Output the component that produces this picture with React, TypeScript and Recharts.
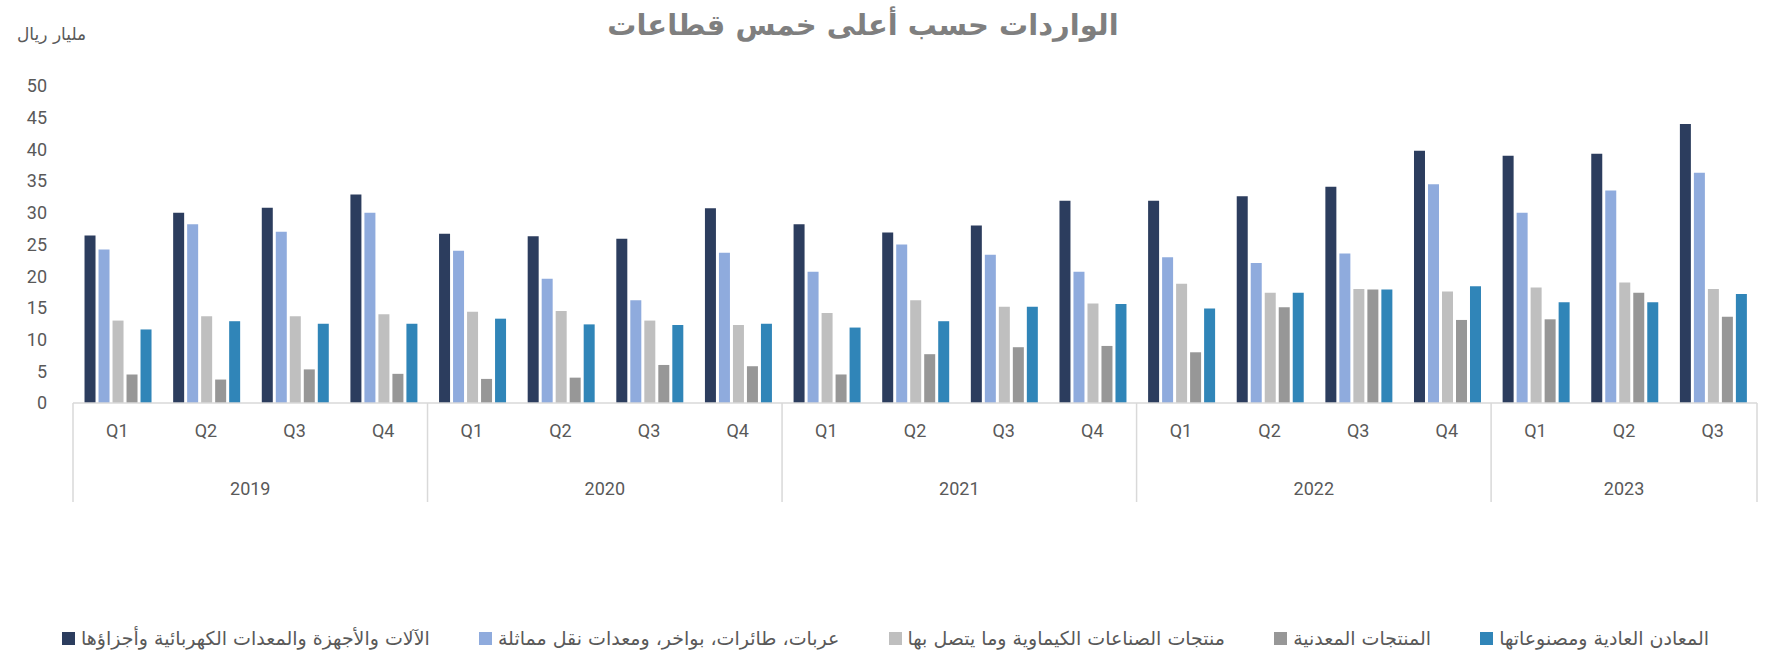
import React from 'react';
import { BarChart, Bar, XAxis, YAxis, Legend } from 'recharts';

const quarters = ['Q1', 'Q2', 'Q3', 'Q4', 'Q1', 'Q2', 'Q3', 'Q4', 'Q1', 'Q2', 'Q3', 'Q4', 'Q1', 'Q2', 'Q3', 'Q4', 'Q1', 'Q2', 'Q3'];
const years = ['2019', '2019', '2019', '2019', '2020', '2020', '2020', '2020', '2021', '2021', '2021', '2021', '2022', '2022', '2022', '2022', '2023', '2023', '2023'];

const machinery = [26.4, 30.0, 30.8, 32.9, 26.7, 26.3, 25.9, 30.7, 28.2, 26.9, 28.0, 31.9, 31.9, 32.6, 34.1, 39.8, 39.0, 39.3, 44.0];
const vehicles = [24.2, 28.2, 27.0, 30.0, 24.0, 19.6, 16.2, 23.7, 20.7, 25.0, 23.4, 20.7, 23.0, 22.1, 23.6, 34.5, 30.0, 33.5, 36.3];
const chemicals = [13.0, 13.7, 13.7, 14.0, 14.4, 14.5, 13.0, 12.3, 14.2, 16.2, 15.2, 15.7, 18.8, 17.4, 18.0, 17.6, 18.2, 19.0, 18.0];
const minerals = [4.5, 3.7, 5.3, 4.6, 3.8, 4.0, 6.0, 5.8, 4.5, 7.7, 8.8, 9.0, 8.0, 15.1, 17.9, 13.1, 13.2, 17.4, 13.6];
const metals = [11.6, 12.9, 12.5, 12.5, 13.3, 12.4, 12.3, 12.5, 11.9, 12.9, 15.2, 15.6, 14.9, 17.4, 17.9, 18.4, 15.9, 15.9, 17.2];

const yTicks = [0, 5, 10, 15, 20, 25, 30, 35, 40, 45, 50];

const series = [
  { key: 'machinery', name: 'الآلات والأجهزة والمعدات الكهربائية وأجزاؤها', color: '#2C3D5E', values: machinery },
  { key: 'vehicles', name: 'عربات، طائرات، بواخر، ومعدات نقل مماثلة', color: '#8FABDD', values: vehicles },
  { key: 'chemicals', name: 'منتجات الصناعات الكيماوية وما يتصل بها', color: '#BFBFBF', values: chemicals },
  { key: 'minerals', name: 'المنتجات المعدنية', color: '#979797', values: minerals },
  { key: 'metals', name: 'المعادن العادية ومصنوعاتها', color: '#3085B8', values: metals },
];

const rows = quarters.map((q, i) => {
  const row: Record<string, string | number> = { q, year: years[i] };
  series.forEach((s) => { row[s.key] = s.values[i]; });
  return row;
});

const W = 1765;
const H = 652;
const Y_W = 73;
const RIGHT = 8;
const QAXIS_H = 50;
const band = (W - Y_W - RIGHT) / quarters.length;
const textColor = '#595959';
const lineColor = '#D9D9D9';
const numFont = 'Roboto, "DejaVu Sans", sans-serif';
const arFont = '"DejaVu Sans", sans-serif';

const YearTick = (props: any) => {
  const { x, y, index } = props;
  const yr = years[index];
  const first = index === 0 || years[index - 1] !== yr;
  const last = index === years.length - 1;
  const n = years.filter((v) => v === yr).length;
  return (
    <g>
      {first && (
        <line x1={x - band / 2} x2={x - band / 2} y1={y - QAXIS_H} y2={y + 49} stroke={lineColor} strokeWidth={1.5} />
      )}
      {last && (
        <line x1={x + band / 2} x2={x + band / 2} y1={y - QAXIS_H} y2={y + 49} stroke={lineColor} strokeWidth={1.5} />
      )}
      {first && (
        <text x={x + ((n - 1) / 2) * band} y={y + 35} textAnchor="middle" dominantBaseline="central"
          fill={textColor} fontSize={18} fontFamily={numFont}>
          {yr}
        </text>
      )}
    </g>
  );
};

// keep the series order, recharts sorts the payload by name
const LegendRow = () => (
  <div style={{ display: 'flex', justifyContent: 'space-between', alignItems: 'center', height: 24, padding: '0 56px 0 62px', boxSizing: 'border-box', width: W }}>
    {series.map((s) => (
      <div key={s.key} style={{ display: 'flex', alignItems: 'center' }}>
        <span style={{ width: 13, height: 13, background: s.color, display: 'inline-block', marginRight: 6 }} />
        <span style={{ fontFamily: arFont, fontSize: 19, color: textColor, direction: 'rtl' }}>{s.name}</span>
      </div>
    ))}
  </div>
);

export default function App() {
  return (
    <div style={{ position: 'absolute', left: 0, top: 0, width: W, height: H, background: '#fff' }}>
      <div style={{ position: 'absolute', left: 863, top: 8, transform: 'translateX(-50%)', fontFamily: arFont, fontWeight: 'bold', fontSize: 29, color: '#7F7F7F', whiteSpace: 'nowrap', direction: 'rtl' }}>
        الواردات حسب أعلى خمس قطاعات
      </div>
      <div style={{ position: 'absolute', left: 17, top: 24, fontFamily: arFont, fontSize: 17, color: textColor, whiteSpace: 'nowrap', direction: 'rtl' }}>
        مليار ريال
      </div>
      <BarChart width={W} height={H} data={rows} margin={{ top: 86, right: RIGHT, left: 0, bottom: 2 }}
        barCategoryGap="13%" barGap={3}>
        <XAxis xAxisId="q" dataKey="q" height={QAXIS_H} interval={0} tickLine={false}
          axisLine={{ stroke: lineColor, strokeWidth: 1.5 }} tickSize={6} tickMargin={15}
          tick={{ fontSize: 18, fill: textColor, fontFamily: numFont }} />
        <XAxis xAxisId="year" dataKey="year" height={173} interval={0} tickLine={false} axisLine={false}
          tickSize={0} tickMargin={0} tick={<YearTick />} />
        <YAxis width={Y_W} domain={[0, 50]} ticks={yTicks} interval={0} axisLine={false} tickLine={false}
          tickSize={6} tickMargin={20} tick={{ fontSize: 18, fill: textColor, fontFamily: numFont }} />
        <Legend verticalAlign="bottom" wrapperStyle={{ left: 0, width: W }} content={<LegendRow />} />
        {series.map((s) => (
          <Bar key={s.key} xAxisId="q" dataKey={s.key} name={s.name} fill={s.color} isAnimationActive={false} />
        ))}
      </BarChart>
    </div>
  );
}
